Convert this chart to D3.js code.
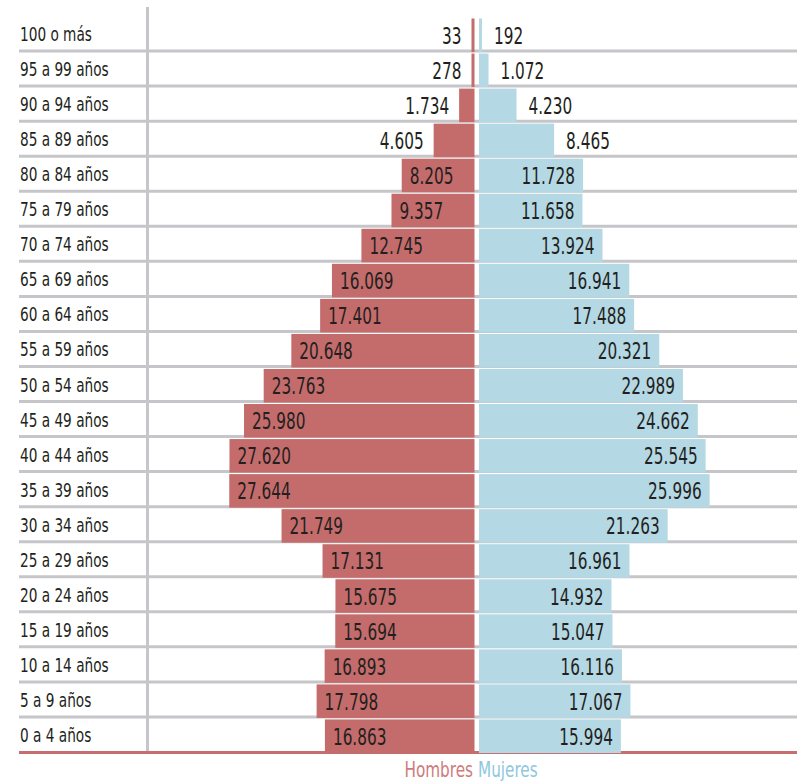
<!DOCTYPE html>
<html>
<head>
<meta charset="utf-8">
<script src="https://cdn.jsdelivr.net/npm/d3@7"></script>
<style>
	body { margin: 0; background: #fff; }
	svg text { font-family: "DejaVu Sans Condensed", "DejaVu Sans", sans-serif; fill: #231f20; }
</style>
</head>
<body>
<svg id="pyramid" width="797" height="783"></svg>
<script>
(function () {
	//DATA
	var ages = ["100 o más", "95 a 99 años", "90 a 94 años", "85 a 89 años", "80 a 84 años", "75 a 79 años",
		"70 a 74 años", "65 a 69 años", "60 a 64 años", "55 a 59 años", "50 a 54 años", "45 a 49 años",
		"40 a 44 años", "35 a 39 años", "30 a 34 años", "25 a 29 años", "20 a 24 años", "15 a 19 años",
		"10 a 14 años", "5 a 9 años", "0 a 4 años"];
	var hombres = [33, 278, 1734, 4605, 8205, 9357, 12745, 16069, 17401, 20648, 23763, 25980,
		27620, 27644, 21749, 17131, 15675, 15694, 16893, 17798, 16863];
	var mujeres = [192, 1072, 4230, 8465, 11728, 11658, 13924, 16941, 17488, 20321, 22989, 24662,
		25545, 25996, 21263, 16961, 14932, 15047, 16116, 17067, 15994];
	var legend = ["Hombres", "Mujeres"];

	//VARIABLE DECLARATION
	var svg, y, x, cx, fmt, rows, redCol, blueCol, grayCol;

	svg = d3.select("#pyramid");
	cx = 477;
	redCol = "#c46c6b";
	blueCol = "#b4d8e4";
	grayCol = "#c6c6ca";
	fmt = d3.formatLocale({ decimal: ",", thousands: ".", grouping: [3], currency: ["", ""] }).format(",");

	y = d3.scaleBand().domain(ages).range([16, 752]).paddingInner(0);
	x = d3.scaleLinear().domain([0, 28000]).range([0, 248.4]);

	rows = ages.map(function (a, i) { return { age: a, h: hombres[i], m: mujeres[i] }; });

	function barW(v) { return Math.max(3, x(v)); }
	function midY(d) { return y(d.age) + 2.5 + (y.bandwidth() - 1.5) / 2; }

	// separators
	svg.selectAll("line.sep")
		.data(ages.slice(0, ages.length - 1)).enter()
		.append("line")
		.attr("class", "sep")
		.attr("x1", 19).attr("x2", 797)
		.attr("y1", function (d) { return y(d) + y.bandwidth(); })
		.attr("y2", function (d) { return y(d) + y.bandwidth(); })
		.style("stroke", grayCol).style("stroke-width", 3);

	svg.append("line")
		.attr("x1", 147.5).attr("x2", 147.5)
		.attr("y1", 7).attr("y2", 752)
		.style("stroke", grayCol).style("stroke-width", 3);

	svg.append("line")
		.attr("x1", 19).attr("x2", 797)
		.attr("y1", 752.5).attr("y2", 752.5)
		.style("stroke", "#c96e6e").style("stroke-width", 3);

	// age labels
	svg.selectAll("text.age")
		.data(rows).enter()
		.append("text")
		.attr("class", "age")
		.attr("transform", function (d) { return "translate(20," + (y(d.age) + y.bandwidth() / 2 + 7.5) + ") scale(0.8,1)"; })
		.style("font-size", "19px")
		.text(function (d) { return d.age; });

	// bars
	svg.selectAll("rect.hom")
		.data(rows).enter()
		.append("rect")
		.attr("class", "hom")
		.attr("x", function (d) { return cx - 2.5 - barW(d.h); })
		.attr("y", function (d) { return y(d.age) + 2.5; })
		.attr("width", function (d) { return barW(d.h); })
		.attr("height", y.bandwidth() - 1.5)
		.style("fill", redCol);

	svg.selectAll("rect.muj")
		.data(rows).enter()
		.append("rect")
		.attr("class", "muj")
		.attr("x", cx + 2)
		.attr("y", function (d) { return y(d.age) + 2.5; })
		.attr("width", function (d) { return barW(d.m); })
		.attr("height", y.bandwidth() - 1.5)
		.style("fill", blueCol);

	// value labels
	svg.selectAll("text.vh")
		.data(rows).enter()
		.append("text")
		.attr("class", "vh")
		.attr("text-anchor", function (d) { return barW(d.h) > 60 ? "start" : "end"; })
		.attr("transform", function (d) {
			var left = cx - 2.5 - barW(d.h);
			var tx = barW(d.h) > 60 ? left + 8 : left - 10;
			return "translate(" + tx + "," + (midY(d) + 8.5) + ") scale(0.74,1)";
		})
		.style("font-size", "23px")
		.text(function (d) { return fmt(d.h); });

	svg.selectAll("text.vm")
		.data(rows).enter()
		.append("text")
		.attr("class", "vm")
		.attr("text-anchor", function (d) { return barW(d.m) > 90 ? "end" : "start"; })
		.attr("transform", function (d) {
			var right = cx + 2 + barW(d.m);
			var tx = barW(d.m) > 90 ? right - 8 : right + 12;
			return "translate(" + tx + "," + (midY(d) + 8.5) + ") scale(0.74,1)";
		})
		.style("font-size", "23px")
		.text(function (d) { return fmt(d.m); });

	// legend
	svg.selectAll("text.legend")
		.data(legend).enter()
		.append("text")
		.attr("class", "legend")
		.attr("text-anchor", function (d, i) { return i === 0 ? "end" : "start"; })
		.attr("transform", function (d, i) { return "translate(" + (i === 0 ? cx - 4 : cx + 1) + ",777) scale(0.77,1)"; })
		.style("font-size", "22px")
		.style("font-weight", "300")
		.style("fill", function (d, i) { return i === 0 ? "#cd7b7b" : "#8ec8dd"; })
		.text(function (d) { return d; });
})();
</script>
</body>
</html>
